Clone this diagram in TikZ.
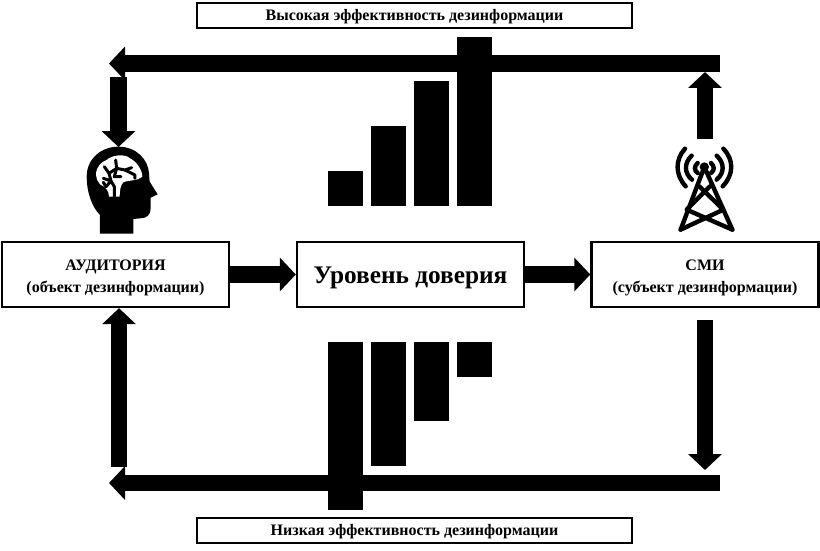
\documentclass[tikz,border=0pt]{standalone}
\usepackage{fontspec}
\setmainfont{Liberation Serif}
\usetikzlibrary{arrows.meta}
\newcommand\lowertext[2]{\raisebox{-#1}[\height][\depth]{\begin{tabular}{@{}c@{}}#2\end{tabular}}}
\tikzset{
  x=1pt,y=-1pt,
  flow/.style={line width=16.5pt,line cap=butt,-{Triangle[length=16pt,width=33pt]}},
  box/.style={draw,line width=2.4pt,fill=white,minimum width=227pt,minimum height=65pt,inner sep=0pt,font=\bfseries\fontsize{16}{22}\selectfont},
  banner/.style={draw,line width=2.4pt,fill=white,minimum width=435pt,minimum height=25pt,inner sep=0pt,font=\bfseries\fontsize{16}{18}\selectfont},
  barfill/.style={fill=black,draw=none},
  vein/.style={line width=3pt,line cap=round,line join=round},
  mast/.style={line width=4.4pt,line cap=round,line join=round},
  wave/.style={line width=4.4pt,line cap=round}
}
\begin{document}
\begin{tikzpicture}
\useasboundingbox (0,0) rectangle (820,551);
% bars
\fill[barfill] (328,171) rectangle (363,206);
\fill[barfill] (371,126) rectangle (406,206);
\fill[barfill] (414,81) rectangle (449,206);
\fill[barfill] (457,37) rectangle (492,206);
\fill[barfill] (328,342) rectangle (363,510);
\fill[barfill] (371,342) rectangle (406,466);
\fill[barfill] (414,342) rectangle (449,421);
\fill[barfill] (457,342) rectangle (492,377);
% boxes
\node[banner] (high) at (414.5,15.5) {\lowertext{1pt}{Высокая эффективность дезинформации}};
\node[banner] (low) at (414.5,530.5) {\lowertext{1.5pt}{Низкая эффективность дезинформации}};
\node[box] (aud) at (115.5,274.5) {\lowertext{3pt}{АУДИТОРИЯ\\(объект дезинформации)}};
\node[box,font=\bfseries\fontsize{25.3}{28}\selectfont] (trust) at (410.5,274.5) {\lowertext{3pt}{Уровень доверия}};
\node[box] (smi) at (705,274.5) {\lowertext{3pt}{СМИ\\(субъект дезинформации)}};
% free ends
\coordinate (tr) at (720,63.5);
\coordinate (tl) at (109,63.5);
\coordinate (bl0) at (109,483);
\coordinate (br) at (720,483);
\coordinate (hs) at (118.5,77);
\coordinate (he) at (118.5,147);
\coordinate (ts) at (705,139);
\coordinate (te) at (705,72);
\coordinate (us) at (119,467);
\coordinate (ds) at (705,320);
\coordinate (de) at (705,470);
\coordinate (cs) at (523,274.5);
% arrows
\draw[flow] (tr) -- (tl);
\draw[flow] (br) -- (bl0);
\draw[flow] (hs) -- (he);
\draw[flow] (ts) -- (te);
\draw[flow] (us) -- (aud.south -| us);
\draw[flow] (ds) -- (de);
\draw[flow] (aud.east) -- (trust.west);
\draw[flow] (cs) -- (smi.west);
% head icon
\begin{scope}[shift={(85,145)},x=0.3333pt,y=-0.3333pt]
\fill (45,266) -- (45,210) .. controls (20,185) and (5,140) .. (5,95)
  .. controls (5,40) and (50,5) .. (100,5) .. controls (155,5) and (190,45) .. (192,85)
  -- (194,110) -- (218,148) -- (197,158) -- (197,190)
  .. controls (197,210) and (185,220) .. (165,220) -- (145,222) -- (145,266) -- cycle;
\fill[white] (33,90) .. controls (33,65) and (50,50) .. (65,45)
  .. controls (80,30) and (120,25) .. (135,40)
  .. controls (155,50) and (172,75) .. (172,95)
  .. controls (160,108) and (130,105) .. (115,112)
  .. controls (106,120) and (104,140) .. (104,155) -- (72,155)
  .. controls (72,135) and (60,125) .. (45,118)
  .. controls (38,110) and (33,100) .. (33,90) -- cycle;
\draw[vein] (88,155) -- (88,125) -- (78,108) -- (63,125);
\draw[vein] (55,100) -- (78,108) -- (72,85) -- (58,65);
\draw[vein] (72,85) -- (95,70) -- (92,45);
\draw[vein] (95,70) -- (120,75) -- (140,68);
\draw[vein] (120,75) -- (150,90) -- (150,100);
\draw[vein] (95,70) -- (88,95) -- (108,95);
\draw[vein] (63,125) -- (55,112);
\end{scope}
% tower icon
\begin{scope}[shift={(670,143)},x=0.3333pt,y=-0.3333pt]
\fill (103,72) circle (14);
\draw[mast] (32,260) -- (103,72) -- (187,260);
\draw[mast] (88,130) -- (160,200) -- (32,260);
\draw[mast] (120,130) -- (50,200) -- (187,260);
\draw[wave] (45,17) .. controls (15,50) and (15,95) .. (47,130);
\draw[wave] (160,17) .. controls (192,50) and (192,95) .. (158,130);
\draw[wave] (65,38) .. controls (42,60) and (42,90) .. (66,110);
\draw[wave] (140,38) .. controls (164,60) and (164,90) .. (140,110);
\draw[wave] (83,60) .. controls (72,70) and (72,82) .. (83,90);
\draw[wave] (123,60) .. controls (134,70) and (134,82) .. (123,90);
\end{scope}
\end{tikzpicture}
\end{document}
